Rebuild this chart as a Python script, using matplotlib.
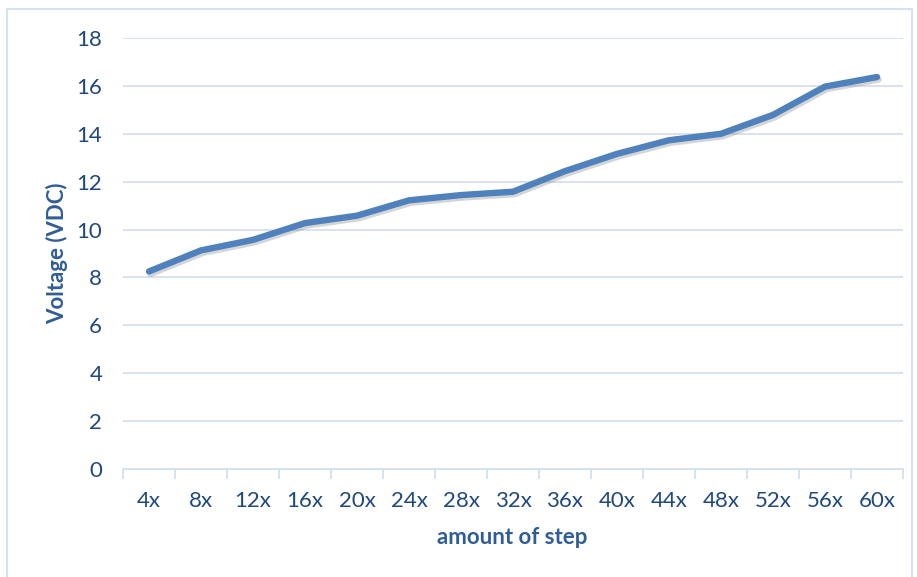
import matplotlib
matplotlib.use("Agg")
import matplotlib.pyplot as plt
import matplotlib.patheffects as pe
from matplotlib.patches import Rectangle

steps = ["4x", "8x", "12x", "16x", "20x", "24x", "28x", "32x",
         "36x", "40x", "44x", "48x", "52x", "56x", "60x"]
voltage = [8.25, 9.13, 9.57, 10.27, 10.58, 11.22, 11.44, 11.58,
           12.44, 13.16, 13.73, 14.0, 14.79, 15.97, 16.37]
y_ticks = [0, 2, 4, 6, 8, 10, 12, 14, 16, 18]

plt.rcParams["font.family"] = ["Lato", "DejaVu Sans"]

line_color = "#4F81BD"
text_color = "#1F497D"
grid_color = "#D6E0EE"

fig = plt.figure(figsize=(9.17, 5.77), dpi=100)
fig.patches.append(Rectangle((7 / 917, -0.1), 0.995 - 7 / 917, 1.1 - 9 / 577,
                             transform=fig.transFigure, fill=False,
                             edgecolor="#D6E2F1", linewidth=1.5))

ax = fig.add_axes([123 / 917, 1 - 469 / 577, 780 / 917, 431 / 577])

x = list(range(len(steps)))
ax.plot(x, voltage, color=line_color, linewidth=4.6, solid_capstyle="round",
        solid_joinstyle="round",
        path_effects=[pe.SimpleLineShadow(offset=(1.2, -1.8), shadow_color="#888888",
                                          alpha=0.35),
                      pe.Normal()])

ax.set_xlim(-0.5, len(steps) - 0.5)
ax.set_ylim(0, 18)
ax.set_yticks(y_ticks)
ax.set_yticklabels([str(v) for v in y_ticks])
ax.yaxis.grid(True, color=grid_color, linewidth=1.3)
ax.set_axisbelow(True)

# tick marks on category boundaries, labels on the centres
ax.set_xticks([i - 0.5 for i in range(len(steps) + 1)])
ax.set_xticklabels([])
ax.set_xticks(x, minor=True)
ax.set_xticklabels(steps, minor=True)
ax.tick_params(axis="x", which="major", direction="out", length=7,
               color=grid_color, width=1.3)
ax.tick_params(axis="x", which="minor", length=0, pad=16,
               labelsize=16, labelcolor=text_color)
ax.tick_params(axis="y", length=0, pad=15, labelsize=16, labelcolor=text_color)

for side in ["top", "right", "left"]:
    ax.spines[side].set_visible(False)
ax.spines["bottom"].set_color(grid_color)
ax.spines["bottom"].set_linewidth(1.3)

fig.text(57 / 917, 1 - 253 / 577, "Voltage (VDC)", rotation=90, ha="center",
         va="center", fontsize=16, fontweight="bold", color="#2F5D95")
fig.text(512 / 917, 1 - 538 / 577, "amount of step", ha="center", va="center",
         fontsize=16, fontweight="bold", color="#2F5D95")

plt.savefig("out.png", dpi=100)
plt.close()
